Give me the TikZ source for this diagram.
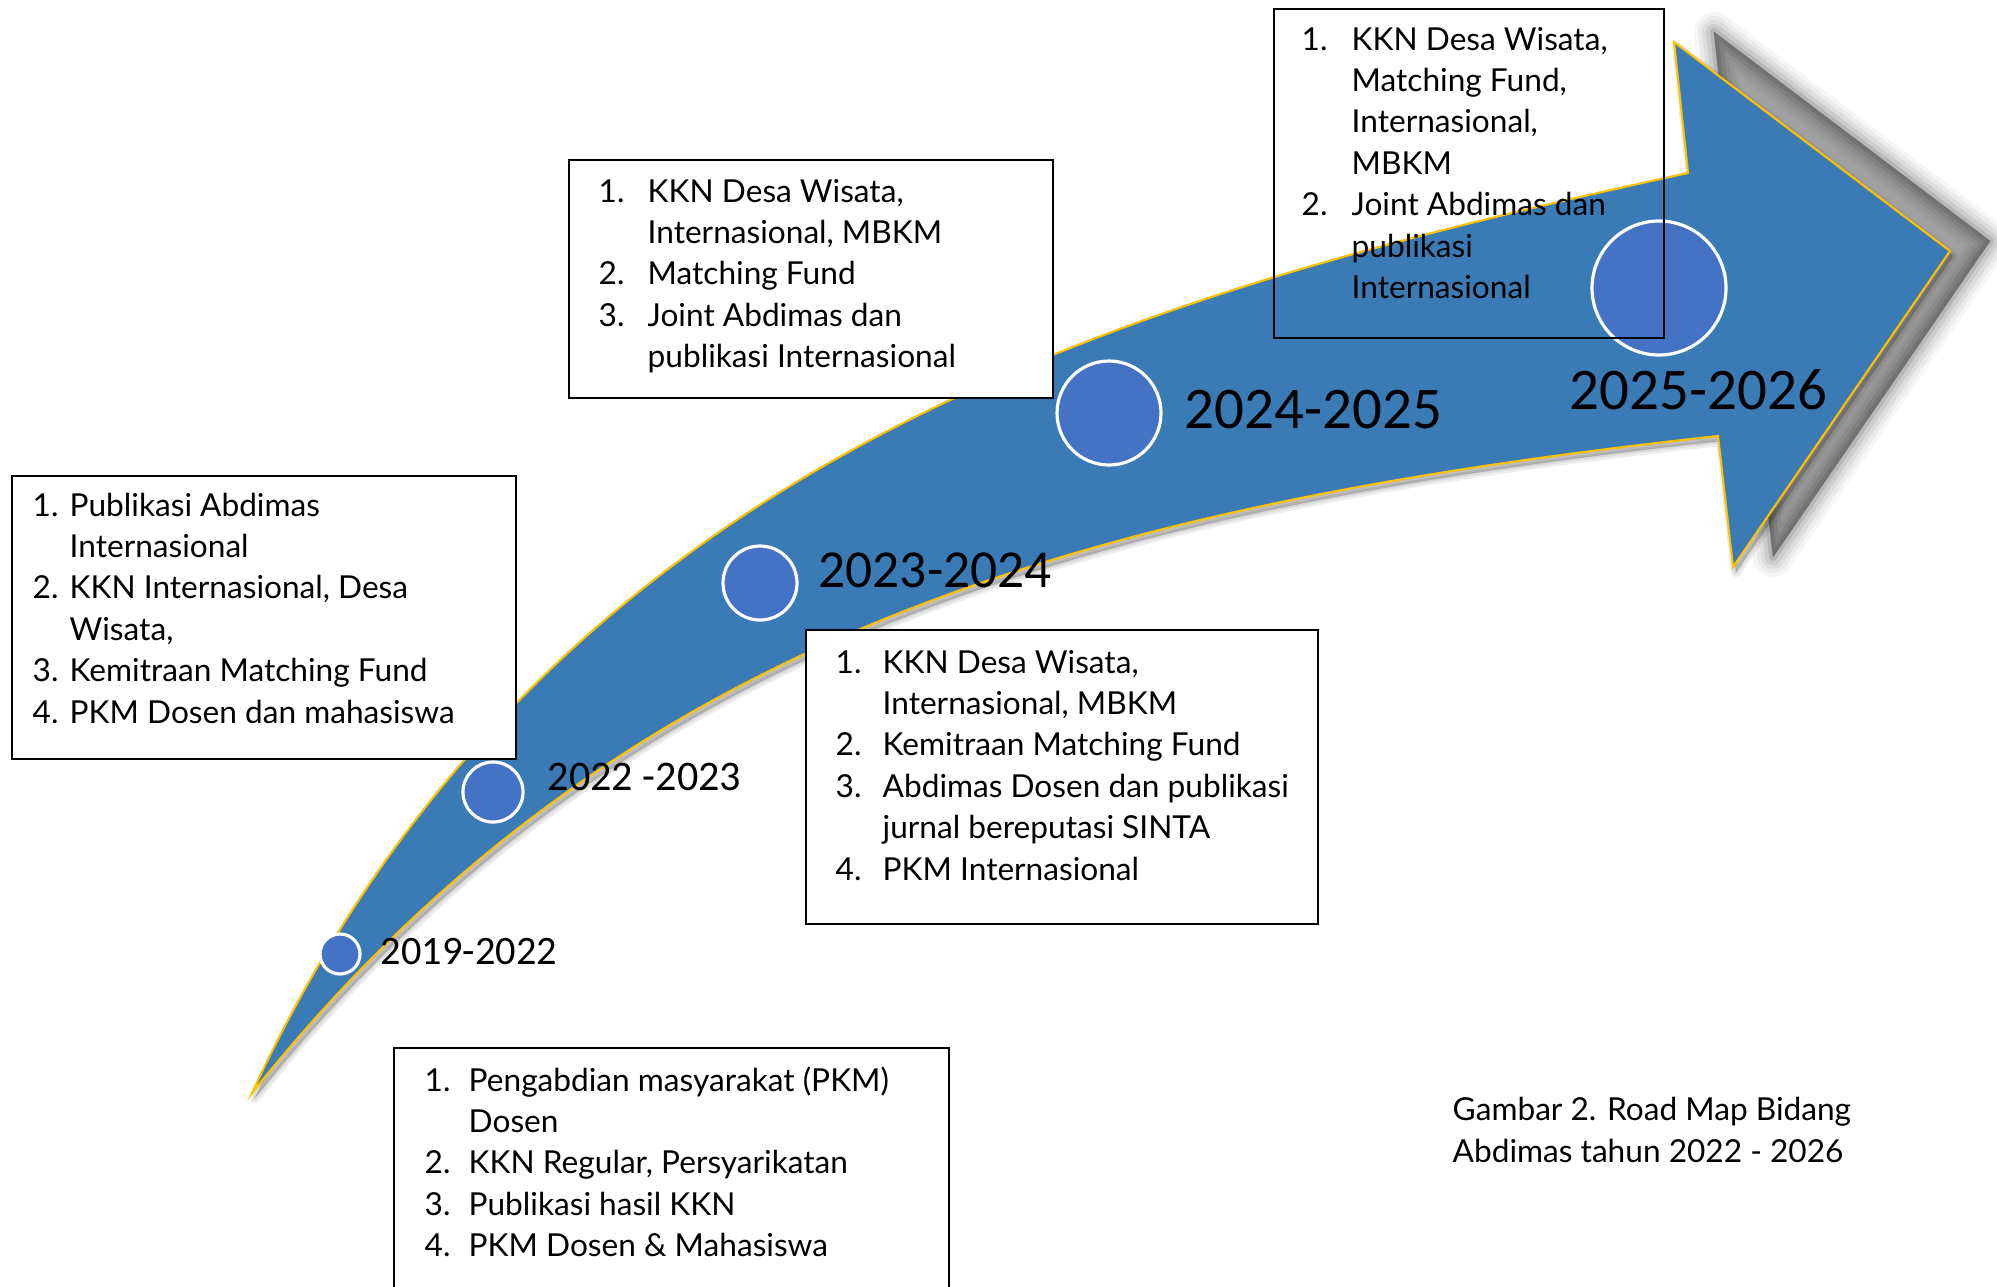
\documentclass[tikz,border=0pt]{standalone}
\usepackage{fontspec}
\setmainfont{Lato}
\newfontfamily\yearfont{Carlito}
\usetikzlibrary{positioning}

\definecolor{arrowblue}{RGB}{58,123,182}
\definecolor{edgegold}{RGB}{255,192,0}
\definecolor{dotblue}{RGB}{68,114,196}

\tikzset{
  listbox/.style={draw=black, line width=0.55pt, fill=white, inner sep=0pt, anchor=north west},
  openbox/.style={listbox, fill=none},
  listtext/.style={inner sep=0pt, anchor=base west, font=\fontsize{9}{11.8}\selectfont},
  dot/.style={circle, fill=dotblue, draw=white, line width=0.9pt, inner sep=0pt},
  year/.style={inner sep=0pt, anchor=base west},
}

% numbered list with a fixed hanging indent
\newcommand{\roadlist}[2]{\begin{tabular}[t]{@{}p{#1}@{}l@{}}#2\end{tabular}}

% outline of the curved arrow
\def\arrowshape{(252,1093) .. controls (540,470) and (1100,300) .. (1688,173)
  -- (1674,42) -- (1950,251) -- (1733,567) -- (1718,436)
  .. controls (1068,507) and (612,643) .. (252,1093) -- cycle}

\begin{document}
\begin{tikzpicture}[x=0.1mm, y=-0.1mm]
  \useasboundingbox (0,0) rectangle (1997,1286);
  \clip (0,0) rectangle (1997,1286);

  % shadows
  \foreach \w/\o in {40/0.035,32/0.045,24/0.06,16/0.08,8/0.1,1/0.12}
    \filldraw[black, opacity=\o, line width=\w*0.1mm, line join=round, shift={(40,-10)}]
      (1688,173) -- (1674,42) -- (1950,251) -- (1733,567) -- (1718,436) -- cycle;
  \foreach \w in {10,5,1}
    \filldraw[black, opacity=0.07, line width=\w*0.1mm, line join=round, shift={(3,5)}] \arrowshape;

  % arrow
  \filldraw[fill=arrowblue, draw=edgegold, line width=0.6pt, line join=miter] \arrowshape;

  % milestones
  \node[dot, minimum size=4mm] (c1) at (340,954) {};
  \node[dot, minimum size=6mm] (c2) at (493,792) {};
  \node[dot, minimum size=7.4mm] (c3) at (760,583) {};
  \node[dot, minimum size=10.4mm] (c4) at (1109,413) {};
  \node[dot, minimum size=13.4mm] (c5) at (1659,288) {};

  \node[year, font=\yearfont\fontsize{11.5}{13}\selectfont] (y1) at (380,964) {2019-2022};
  \node[year, font=\yearfont\fontsize{12}{14}\selectfont] (y2) at (547,790) {2022 -2023};
  \node[year, font=\yearfont\fontsize{15.2}{18}\selectfont] (y3) at (818,587) {2023-2024};
  \node[year, font=\yearfont\fontsize{16.8}{20}\selectfont] (y4) at (1184,428) {2024-2025};
  \node[year, font=\yearfont\fontsize{16.8}{20}\selectfont] (y5) at (1569,409) {2025-2026};

  % boxes
  \node[listbox, minimum width=50.4mm, minimum height=28.3mm] (boxA) at (11,475) {};
  \node[listbox, minimum width=48.4mm, minimum height=23.8mm] (boxB) at (568,159) {};
  \node[openbox, minimum width=39mm, minimum height=32.9mm] (boxC) at (1273,8) {};
  \node[listbox, minimum width=51.2mm, minimum height=29.4mm] (boxD) at (805,629) {};
  \node[listbox, minimum width=55.5mm, minimum height=26mm] (boxE) at (393,1047) {};

  \node[listtext] (txtA) at (32,516) {\roadlist{3.7mm}{%
    1. & Publikasi Abdimas\\ & Internasional\\
    2. & KKN Internasional, Desa\\ & Wisata,\\
    3. & Kemitraan Matching Fund\\
    4. & PKM Dosen dan mahasiswa}};
  \node[listtext] (txtB) at (598,202) {\roadlist{4.9mm}{%
    1. & KKN Desa Wisata,\\ & Internasional, MBKM\\
    2. & Matching Fund\\
    3. & Joint Abdimas dan\\ & publikasi Internasional}};
  \node[listtext] (txtC) at (1301,50) {\roadlist{5mm}{%
    1. & KKN Desa Wisata,\\ & Matching Fund,\\ & Internasional,\\ & MBKM\\
    2. & Joint Abdimas dan\\ & publikasi\\ & Internasional}};
  \node[listtext] (txtD) at (835,673) {\roadlist{4.7mm}{%
    1. & KKN Desa Wisata,\\ & Internasional, MBKM\\
    2. & Kemitraan Matching Fund\\
    3. & Abdimas Dosen dan publikasi\\ & jurnal bereputasi SINTA\\
    4. & PKM Internasional}};
  \node[listtext] (txtE) at (424,1091) {\roadlist{4.4mm}{%
    1. & Pengabdian masyarakat (PKM)\\ & Dosen\\
    2. & KKN Regular, Persyarikatan\\
    3. & Publikasi hasil KKN\\
    4. & PKM Dosen \& Mahasiswa}};

  \node[listtext, font=\fontsize{9}{12}\selectfont] (caption) at (1452,1120)
    {\begin{tabular}[t]{@{}l@{}}Gambar 2. Road Map Bidang\\Abdimas tahun 2022 - 2026\end{tabular}};
\end{tikzpicture}
\end{document}
